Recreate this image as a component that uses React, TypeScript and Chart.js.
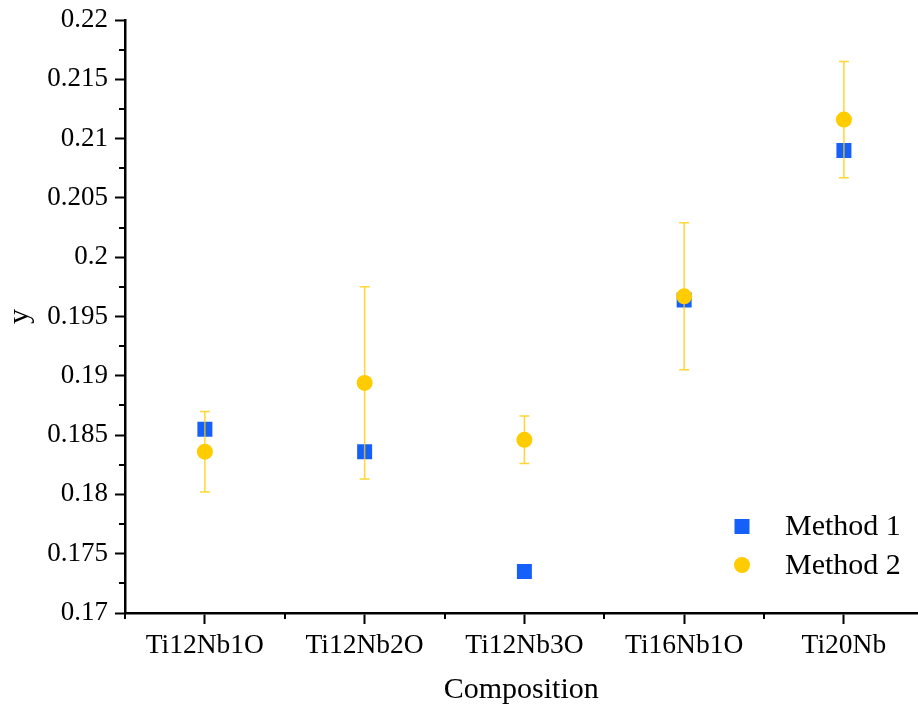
import React, { useEffect, useRef } from 'react';
import { Chart, registerables } from 'chart.js';

Chart.register(...registerables);

const categories = ['Ti12Nb1O', 'Ti12Nb2O', 'Ti12Nb3O', 'Ti16Nb1O', 'Ti20Nb'];
const method1 = [0.1855, 0.1836, 0.1735, 0.1964, 0.209];
const method2 = [0.1836, 0.1894, 0.1846, 0.1967, 0.2116];
const method2Err = [0.0034, 0.0081, 0.002, 0.0062, 0.0049];
const yTicks = [0.17, 0.175, 0.18, 0.185, 0.19, 0.195, 0.2, 0.205, 0.21, 0.215, 0.22];
const yMinorTicks = [0.1725, 0.1775, 0.1825, 0.1875, 0.1925, 0.1975, 0.2025, 0.2075, 0.2125, 0.2175];
const xMinorTicks = [-0.5, 0.5, 1.5, 2.5, 3.5];

const FONT = "'Liberation Serif', 'Times New Roman', serif";
const BLUE = '#1560FB';
const YELLOW = '#FFCC00';
const VIEW_W = 918;

const errorBarPlugin = {
  id: 'errorBars',
  afterDatasetDraw(chart: any, args: any) {
    if (args.index !== 1) return;
    const ctx = chart.ctx;
    const xs = chart.scales.x;
    const ys = chart.scales.y;
    ctx.save();
    ctx.strokeStyle = 'rgba(255,204,0,0.8)';
    ctx.lineWidth = 1.5;
    method2.forEach((v, i) => {
      const x = xs.getPixelForValue(i);
      const yTop = ys.getPixelForValue(v + method2Err[i]);
      const yBot = ys.getPixelForValue(v - method2Err[i]);
      ctx.beginPath();
      ctx.moveTo(x, yTop);
      ctx.lineTo(x, yBot);
      ctx.moveTo(x - 5, yTop);
      ctx.lineTo(x + 5, yTop);
      ctx.moveTo(x - 5, yBot);
      ctx.lineTo(x + 5, yBot);
      ctx.stroke();
    });
    ctx.restore();
  },
};

const minorTickPlugin = {
  id: 'minorTicks',
  afterDraw(chart: any) {
    const ctx = chart.ctx;
    const xs = chart.scales.x;
    const ys = chart.scales.y;
    const { left, bottom } = chart.chartArea;
    ctx.save();
    ctx.strokeStyle = '#000';
    ctx.lineWidth = 2;
    ctx.beginPath();
    yMinorTicks.forEach((v) => {
      const y = Math.round(ys.getPixelForValue(v));
      ctx.moveTo(left - 6, y);
      ctx.lineTo(left, y);
    });
    xMinorTicks.forEach((v) => {
      const x = Math.round(xs.getPixelForValue(v));
      ctx.moveTo(x, bottom);
      ctx.lineTo(x, bottom + 6);
    });
    ctx.stroke();
    ctx.restore();
  },
};

const legendPlugin = {
  id: 'customLegend',
  afterDraw(chart: any) {
    const ctx = chart.ctx;
    const { bottom } = chart.chartArea;
    const w = VIEW_W;
    const items = [chart.data.datasets[1], chart.data.datasets[0]];
    ctx.save();
    items.forEach((ds: any, i: number) => {
      const cy = bottom - 86.5 + i * 38.5;
      const cx = w - 176;
      ctx.fillStyle = ds.backgroundColor;
      if (ds.pointStyle === 'rect') {
        ctx.fillRect(cx - 7.5, cy - 7.5, 15, 15);
      } else {
        ctx.beginPath();
        ctx.arc(cx, cy, 8, 0, Math.PI * 2);
        ctx.fill();
      }
      ctx.fillStyle = '#000';
      ctx.font = `30px ${FONT}`;
      ctx.textBaseline = 'middle';
      ctx.textAlign = 'left';
      ctx.fillText(ds.label, w - 133, cy + 1);
    });
    ctx.restore();
  },
};

export default function App() {
  const ref = useRef<HTMLCanvasElement>(null);
  useEffect(() => {
    if (!ref.current) return;
    const chart = new Chart(ref.current, {
      type: 'scatter',
      data: {
        datasets: [
          {
            label: 'Method 2',
            data: method2.map((v, i) => ({ x: i, y: v })),
            backgroundColor: YELLOW,
            borderColor: YELLOW,
            borderWidth: 0,
            pointStyle: 'circle',
            pointRadius: 8,
            pointHoverRadius: 8,
          },
          {
            label: 'Method 1',
            data: method1.map((v, i) => ({ x: i, y: v })),
            backgroundColor: BLUE,
            borderColor: BLUE,
            borderWidth: 0,
            pointStyle: 'rect',
            pointRadius: 10.6,
            pointHoverRadius: 10.6,
          },
        ],
      },
      options: {
        animation: false,
        responsive: true,
        maintainAspectRatio: false,
        layout: { padding: { top: 20, right: 0, left: 0, bottom: 0 } },
        plugins: {
          legend: { display: false },
          tooltip: { enabled: false },
        },
        scales: {
          x: {
            type: 'linear',
            min: -0.5,
            max: 4.46,
            afterBuildTicks: (s: any) => {
              s.ticks = categories.map((_, i) => ({ value: i }));
            },
            afterFit: (s: any) => {
              s.height = 96;
              s.paddingRight = 0;
            },
            ticks: {
              callback: (v: any) => categories[v] ?? '',
              font: { family: FONT, size: 27.5 },
              color: '#000',
              padding: 5,
              autoSkip: false,
              maxRotation: 0,
            },
            grid: {
              drawOnChartArea: false,
              drawTicks: true,
              tickLength: 11,
              tickWidth: 2,
              tickColor: '#000',
            },
            border: { display: true, color: '#000', width: 2.5 },
            title: {
              display: true,
              text: 'Composition',
              font: { family: FONT, size: 30 },
              color: '#000',
              padding: { top: 0, bottom: 1 },
            },
          },
          y: {
            type: 'linear',
            min: 0.17,
            max: 0.22,
            afterBuildTicks: (s: any) => {
              s.ticks = yTicks.map((v) => ({ value: v }));
            },
            afterFit: (s: any) => {
              s.width = 125;
              s.paddingTop = 0;
            },
            ticks: {
              callback: (v: any) => String(+Number(v).toFixed(4)),
              font: { family: FONT, size: 27 },
              color: '#000',
              padding: 7,
            },
            grid: {
              drawOnChartArea: false,
              drawTicks: true,
              tickLength: 10,
              tickWidth: 2,
              tickColor: '#000',
            },
            border: { display: true, color: '#000', width: 2.5 },
            title: {
              display: true,
              text: 'y',
              font: { family: FONT, size: 30 },
              color: '#000',
              padding: { top: 2, bottom: 0 },
            },
          },
        },
      },
      plugins: [errorBarPlugin, minorTickPlugin, legendPlugin],
    });
    return () => chart.destroy();
  }, []);

  return (
    <div style={{ position: 'absolute', left: 0, top: 0, width: VIEW_W, height: 709, overflow: 'hidden' }}>
      <div style={{ position: 'relative', width: VIEW_W + 10, height: 709 }}>
        <canvas ref={ref} />
      </div>
    </div>
  );
}
